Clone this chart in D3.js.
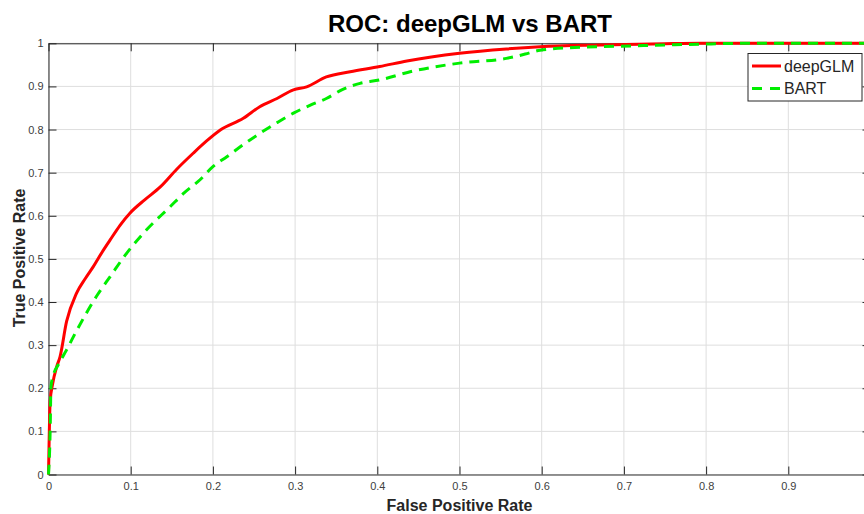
<!DOCTYPE html>
<html><head><meta charset="utf-8">
<script src="https://cdn.jsdelivr.net/npm/d3@7"></script>
<style>
body{margin:0;background:#fff;}
svg{display:block;font-family:"Liberation Sans",Arial,sans-serif;}
</style></head>
<body><svg id="c" width="864" height="514"></svg>
<script>
const title = "ROC: deepGLM vs BART";
const xLabel = "False Positive Rate";
const yLabel = "True Positive Rate";
const seriesNames = ["deepGLM", "BART"];
const xTicks = [0,0.1,0.2,0.3,0.4,0.5,0.6,0.7,0.8,0.9];
const yTicks = [0,0.1,0.2,0.3,0.4,0.5,0.6,0.7,0.8,0.9,1];

const deepFpr = [0,0.001,0.002,0.005,0.01,0.014,0.022,0.034,0.045,0.0545,0.065,0.075,0.087,0.099,0.117,0.136,0.156,0.176,0.192,0.209,0.237,0.257,0.278,0.298,0.314,0.338,0.367,0.403,0.436,0.5,0.557,0.598,0.671,0.75,0.793,1.0];
const deepTpr = [0,0.10,0.17,0.21,0.25,0.273,0.355,0.42,0.455,0.482,0.515,0.544,0.578,0.606,0.637,0.667,0.708,0.745,0.773,0.799,0.826,0.853,0.872,0.892,0.899,0.922,0.934,0.946,0.959,0.977,0.987,0.992,0.996,0.999,1.0,1.0];
const bartFpr = [0,0.002,0.003,0.006,0.012,0.022,0.034,0.046,0.06,0.075,0.095,0.119,0.148,0.165,0.184,0.2,0.217,0.237,0.257,0.278,0.298,0.318,0.338,0.358,0.379,0.403,0.440,0.5,0.557,0.58,0.598,0.65,0.711,0.793,0.85,1.0];
const bartTpr = [0,0.10,0.204,0.231,0.255,0.289,0.333,0.374,0.418,0.459,0.513,0.567,0.621,0.653,0.683,0.714,0.737,0.765,0.791,0.816,0.838,0.856,0.872,0.893,0.907,0.915,0.934,0.954,0.965,0.975,0.984,0.991,0.994,0.998,1.0,1.0];

const svg = d3.select("#c");
const L = 48.5, R = 870.5, T = 43.3, B = 474.5;
const x = d3.scaleLinear().domain([0,1]).range([L,R]);
const y = d3.scaleLinear().domain([0,1]).range([B,T]);
const axisCol = "#262626";

// grid
const g = svg.append("g");
g.selectAll(".gx").data(xTicks.concat([1])).enter().append("line")
  .attr("x1",d=>x(d)).attr("x2",d=>x(d)).attr("y1",T).attr("y2",B)
  .attr("stroke","#dedede").attr("stroke-width",1);
g.selectAll(".gy").data(yTicks).enter().append("line")
  .attr("x1",L).attr("x2",R).attr("y1",d=>y(d)).attr("y2",d=>y(d))
  .attr("stroke","#dedede").attr("stroke-width",1);

// axes with inward ticks
const tl = 8;
const xb = svg.append("g").attr("transform",`translate(0,${B})`)
  .call(d3.axisBottom(x).tickValues(xTicks).tickSizeInner(-tl).tickSizeOuter(0).tickPadding(8).tickFormat(d=>d===0?"0":d3.format(".1f")(d)));
const xt = svg.append("g").attr("transform",`translate(0,${T})`)
  .call(d3.axisTop(x).tickValues(xTicks).tickSizeInner(-tl).tickSizeOuter(0).tickFormat(""));
const yl = svg.append("g").attr("transform",`translate(${L},0)`)
  .call(d3.axisLeft(y).tickValues(yTicks).tickSizeInner(-tl).tickSizeOuter(0).tickPadding(5).tickFormat(d=>d===0?"0":(d===1?"1":d3.format(".1f")(d))));
const yr = svg.append("g").attr("transform",`translate(${R},0)`)
  .call(d3.axisRight(y).tickValues(yTicks).tickSizeInner(-tl).tickSizeOuter(0).tickFormat(""));
[xb,xt,yl,yr].forEach(a=>{
  a.select(".domain").attr("stroke",axisCol).attr("stroke-width",1);
  a.selectAll(".tick line").attr("stroke",axisCol).attr("stroke-width",1);
  a.selectAll(".tick text").attr("fill","#404040").style("font-size","11px").style("font-family","'Liberation Sans',Arial,sans-serif");
});
xb.select(".domain").attr("stroke","#707070").attr("stroke-width",1.6);

// lines
const line = d3.line().x(d=>x(d[0])).y(d=>y(d[1])).curve(d3.curveMonotoneX);
const deepData = deepFpr.map((f,i)=>[f,deepTpr[i]]);
const bartData = bartFpr.map((f,i)=>[f,bartTpr[i]]);
svg.append("path").datum(deepData).attr("d",line).attr("fill","none")
  .attr("stroke","#ff0000").attr("stroke-width",3).attr("stroke-linejoin","round");
svg.append("path").datum(bartData).attr("d",line).attr("fill","none")
  .attr("stroke","#00ee00").attr("stroke-width",3).attr("stroke-dasharray","10,7");

// legend
const lg = svg.append("g");
lg.append("rect").attr("x",748).attr("y",53.5).attr("width",114).attr("height",47.5)
  .attr("fill","#fff").attr("stroke",axisCol).attr("stroke-width",1);
const legItems = [{n:seriesNames[0],c:"#ff0000",d:null,y:66},{n:seriesNames[1],c:"#00ee00",d:"10,8",y:88.5}];
legItems.forEach(it=>{
  lg.append("line").attr("x1",752).attr("x2",781).attr("y1",it.y).attr("y2",it.y)
    .attr("stroke",it.c).attr("stroke-width",3).attr("stroke-dasharray",it.d);
  lg.append("text").attr("x",784).attr("y",it.y+5.5).text(it.n)
    .attr("fill","#262626").style("font-size","16px");
});

// titles
svg.append("text").attr("x",470).attr("y",32).attr("text-anchor","middle")
  .style("font-size","24px").style("font-weight","bold").attr("fill","#000").text(title);
svg.append("text").attr("x",459.5).attr("y",511).attr("text-anchor","middle")
  .style("font-size","16px").style("font-weight","bold").attr("fill","#262626").text(xLabel);
svg.append("text").attr("transform","translate(25,258) rotate(-90)").attr("text-anchor","middle")
  .style("font-size","16px").style("font-weight","bold").attr("fill","#262626").text(yLabel);
</script></body></html>
